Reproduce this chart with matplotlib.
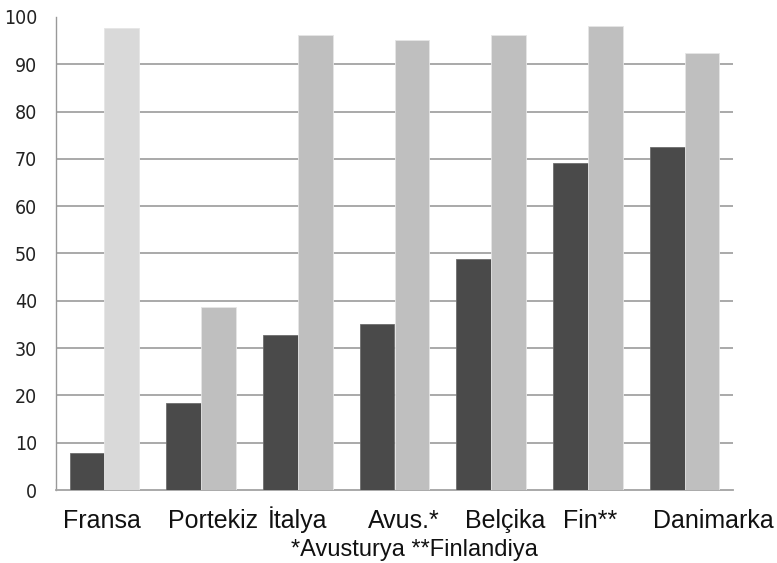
import matplotlib
matplotlib.use("Agg")
import matplotlib.pyplot as plt
import numpy as np

categories = ["Fransa", "Portekiz", "İtalya", "Avus.*", "Belçika", "Fin**", "Danimarka"]
series_dark = [7.8, 18.3, 32.8, 35.1, 48.8, 69.2, 72.6]
series_light = [97.6, 38.7, 96.2, 95.1, 96.2, 98.1, 92.3]
light_colors = ["#d9d9d9", "#bfbfbf", "#bfbfbf", "#bfbfbf", "#bfbfbf", "#bfbfbf", "#bfbfbf"]
yticks = [0, 10, 20, 30, 40, 50, 60, 70, 80, 90, 100]
footnote = "*Avusturya **Finlandiya"
label_left_px = [63, 168, 268, 368, 465, 563, 653]

W, H = 777, 563
fig = plt.figure(figsize=(W / 100, H / 100), dpi=100)
ax = fig.add_axes([56 / W, (H - 490) / H, 677 / W, 473 / H])

x = np.arange(len(categories))
bw = 0.36
ax.bar(x - bw / 2, series_dark, width=bw, color="#4a4a4a", edgecolor="#6e6e6e", linewidth=0.6, zorder=3)
ax.bar(x + bw / 2, series_light, width=bw, color=light_colors, edgecolor="#e6e6e6", linewidth=0.6, zorder=3)

ax.set_xlim(-0.5, len(categories) - 0.5)
ax.set_ylim(0, 100)
ax.set_yticks(yticks)
ax.set_yticklabels([str(t) for t in yticks], fontsize=14, fontstretch="condensed",
                   family=["DejaVu Sans"], color="#222222")
ax.tick_params(axis="y", length=0, pad=13.5)
ax.set_xticks([])
for t in yticks:
    if 0 < t < 100:
        ax.axhline(t, color="#a3a3a3", linewidth=1.3, zorder=0)
for s in ["top", "right"]:
    ax.spines[s].set_visible(False)
ax.spines["left"].set_color("#999999")
ax.spines["left"].set_linewidth(1.0)
ax.spines["bottom"].set_color("#a3a3a3")
ax.spines["bottom"].set_linewidth(1.3)

for lab, px in zip(categories, label_left_px):
    fig.text(px / W, 1 - 528 / H, lab, ha="left", va="baseline", fontsize=18,
             family=["Liberation Sans", "DejaVu Sans"], color="#111111")
fig.text(291 / W, 1 - 556 / H, footnote, ha="left", va="baseline", fontsize=17,
         family=["Liberation Sans", "DejaVu Sans"], color="#111111")

fig.savefig("out.png", dpi=100)
